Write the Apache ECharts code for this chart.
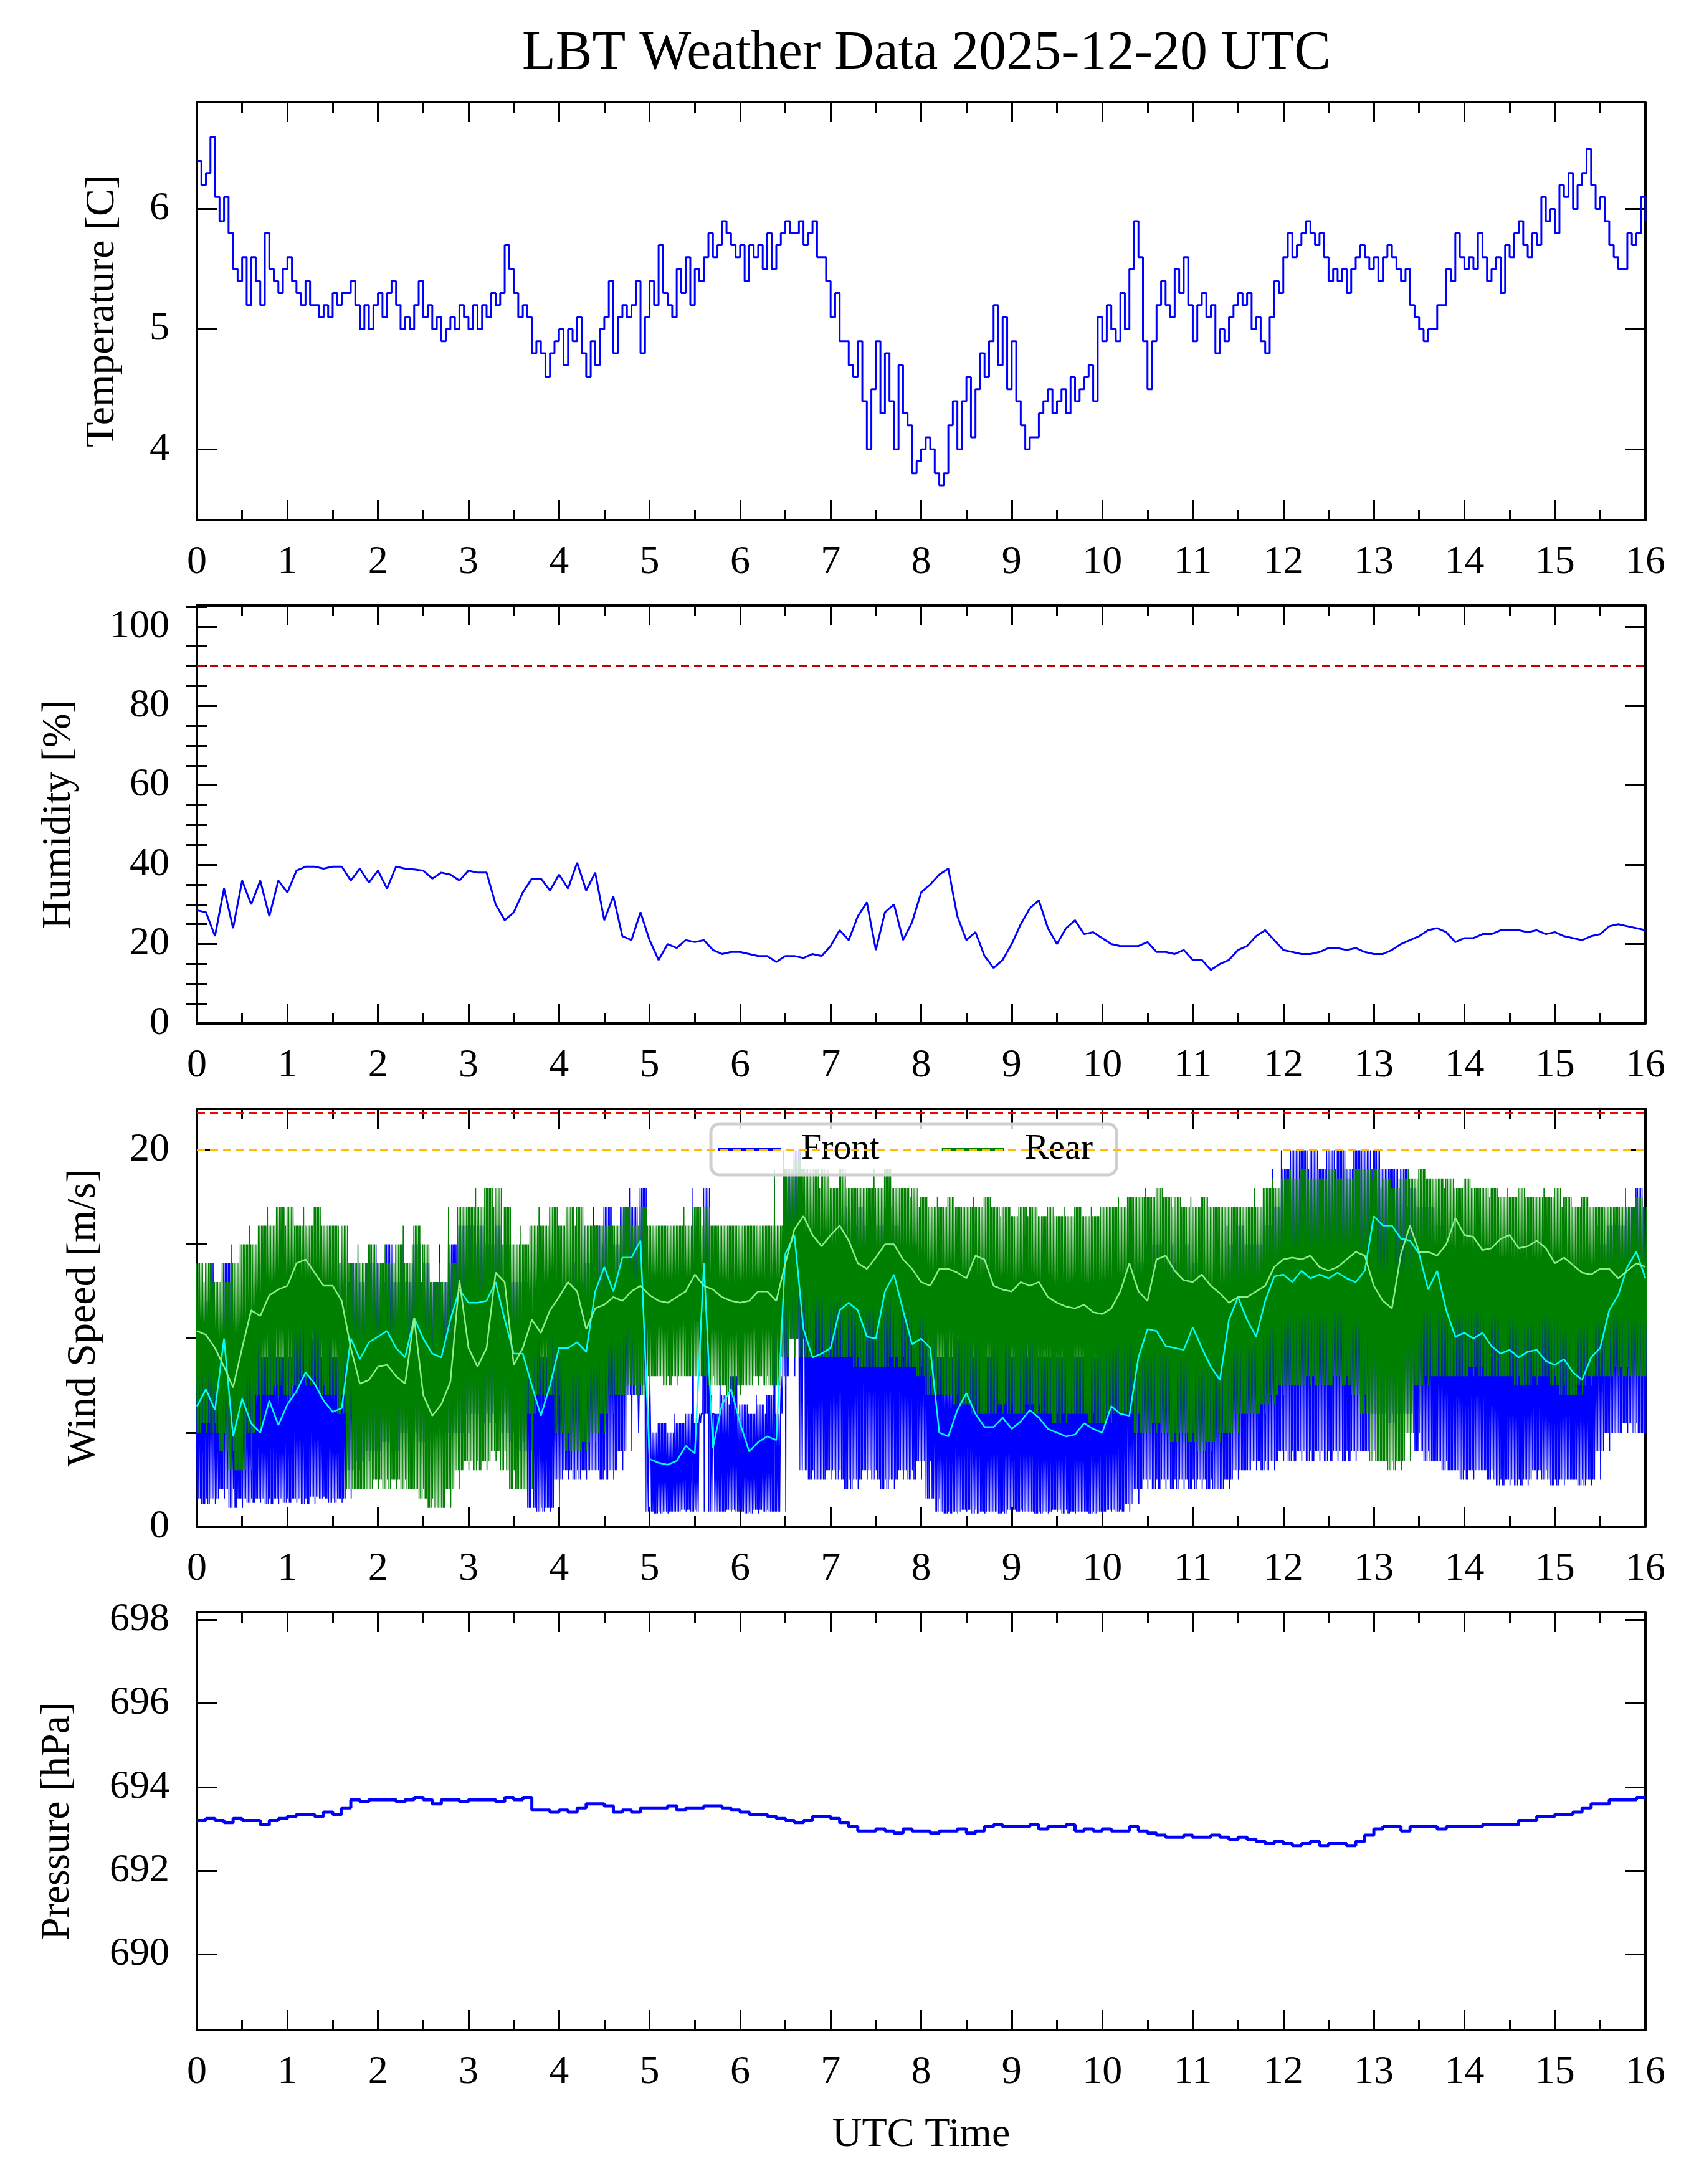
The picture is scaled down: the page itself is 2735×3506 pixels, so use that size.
<!DOCTYPE html>
<html>
<head>
<meta charset="utf-8">
<title>LBT Weather Data 2025-12-20 UTC</title>
<script src="https://cdn.jsdelivr.net/npm/echarts@6/dist/echarts.min.js"></script>
<style>
html, body { margin: 0; padding: 0; background: #fff; }
#main { width: 2735px; height: 3506px; }
</style>
</head>
<body>
<div id="main"></div>
<script>
// sampling steps (hours)
var tempStep = 0.05;
var stdStep = 0.1;

var hourTicks = [0,1,2,3,4,5,6,7,8,9,10,11,12,13,14,15,16];

// temperature [C], every 0.05 h
var tempVals = [
  6.4,6.2,6.3,6.6,6.1,5.9,6.1,5.8,5.5,5.4,5.6,5.2,5.6,5.4,5.2,5.8,5.5,5.4,5.3,5.5,
  5.6,5.4,5.3,5.2,5.4,5.2,5.2,5.1,5.2,5.1,5.3,5.2,5.3,5.3,5.4,5.2,5.0,5.2,5.0,5.2,
  5.3,5.1,5.3,5.4,5.2,5.0,5.1,5.0,5.2,5.4,5.1,5.2,5.0,5.1,4.9,5.0,5.1,5.0,5.2,5.1,
  5.0,5.2,5.0,5.2,5.1,5.3,5.2,5.3,5.7,5.5,5.3,5.1,5.2,5.1,4.8,4.9,4.8,4.6,4.8,4.9,
  5.0,4.7,5.0,4.9,5.1,4.8,4.6,4.9,4.7,5.0,5.1,5.4,4.8,5.1,5.2,5.1,5.2,5.4,4.8,5.1,
  5.4,5.2,5.7,5.3,5.2,5.1,5.5,5.3,5.6,5.2,5.5,5.4,5.6,5.8,5.6,5.7,5.9,5.8,5.7,5.6,
  5.7,5.4,5.7,5.6,5.7,5.5,5.8,5.5,5.7,5.8,5.9,5.8,5.8,5.9,5.7,5.8,5.9,5.6,5.6,5.4,
  5.1,5.3,4.9,4.9,4.7,4.6,4.9,4.4,4.0,4.5,4.9,4.3,4.8,4.4,4.0,4.7,4.3,4.2,3.8,3.9,
  4.0,4.1,4.0,3.8,3.7,3.8,4.2,4.4,4.0,4.4,4.6,4.1,4.5,4.8,4.6,4.9,5.2,4.7,5.1,4.5,
  4.9,4.4,4.2,4.0,4.1,4.1,4.3,4.4,4.5,4.3,4.4,4.5,4.3,4.6,4.4,4.5,4.6,4.7,4.4,5.1,
  4.9,5.2,5.0,4.9,5.3,5.0,5.5,5.9,5.6,4.9,4.5,4.9,5.2,5.4,5.2,5.1,5.5,5.3,5.6,5.2,
  4.9,5.2,5.3,5.1,5.2,4.8,5.0,4.9,5.1,5.2,5.3,5.2,5.3,5.0,5.1,4.9,4.8,5.1,5.4,5.3,
  5.6,5.8,5.6,5.7,5.8,5.9,5.8,5.7,5.8,5.6,5.4,5.5,5.4,5.5,5.3,5.5,5.6,5.7,5.6,5.5,
  5.6,5.4,5.6,5.7,5.6,5.5,5.4,5.5,5.2,5.1,5.0,4.9,5.0,5.0,5.2,5.2,5.5,5.4,5.8,5.6,
  5.5,5.6,5.5,5.8,5.6,5.4,5.5,5.6,5.3,5.7,5.6,5.8,5.9,5.7,5.6,5.8,5.7,6.1,5.9,6.0,
  5.8,6.2,6.1,6.3,6.0,6.2,6.3,6.5,6.2,6.0,6.1,5.9,5.7,5.6,5.5,5.5,5.8,5.7,5.8,6.1,
  5.9
];

// humidity [%], every 0.1 h
var humidityVals = [
  28.5,28,22,34,24,36,30,36,27,36,
  33,38.5,39.5,39.5,39,39.5,39.5,36,39,35.5,
  38.5,34,39.5,39,38.8,38.5,36.5,38,37.5,36,
  38.5,38,38,30,26,28,33,36.5,36.5,33.5,
  37.5,34,40.5,33.5,38,26,32,22,21,28,
  21,16,20,19,21,20.5,21,18.5,17.5,18,
  18,17.5,17,17,15.5,17,17,16.5,17.5,17,
  19.5,23.5,21,27,30.5,18.5,28,30,21,25.5,
  33,35,37.5,39,27,21,23,17,14,16,
  20,25,29,31,24,20,24,26,22.5,23,
  21.5,20,19.5,19.5,19.5,20.5,18,18,17.5,18.5,
  16,16,13.5,15,16,18.5,19.5,22,23.5,21,
  18.5,18,17.5,17.5,18,19,19,18.5,19,18,
  17.5,17.5,18.5,20,21,22,23.5,24,23,20.5,
  21.5,21.5,22.5,22.5,23.5,23.5,23.5,23,23.5,22.5,
  23,22,21.5,21,22,22.5,24.5,25,24.5,24,
  23.5
];
var humidityLimit = 90;

// wind speed [m/s], every 0.1 h: running means and the spread of the raw samples
var frontMean = [
  6.4,7.3,6.2,10,4.8,6.8,5.5,5.0,6.7,5.4,
  6.5,7.2,8.2,7.6,6.7,6.1,6.3,10,8.9,9.8,
  10.1,10.4,9.5,9.0,11.1,10,9.2,9.0,11,12.6,
  11.9,11.9,12,13,11,9.2,9.2,7.5,5.9,7.5,
  9.5,9.5,9.8,9.3,12.5,13.8,12.5,14.3,14.3,15.2,
  3.6,3.4,3.3,3.5,4.3,3.9,14,4.2,6.5,7.3,
  5.5,4.0,4.5,4.8,4.6,14.5,15.5,10.5,9.0,9.2,
  9.5,11.5,11.9,11.5,10.1,10.0,12.5,13.4,11.5,9.7,
  10.0,9.5,5.0,4.8,6.2,7.1,6.0,5.3,5.3,5.8,
  5.2,5.6,6.2,5.8,5.2,5.0,4.8,4.9,5.5,5.2,
  5.0,6.4,6.0,5.9,9.0,10.5,10.4,9.6,9.5,9.4,
  10.6,9.5,8.5,7.8,11,12.2,11,10.1,12,13.3,
  13.4,13.0,13.6,13.2,13.4,13.2,13.5,13.2,13.0,13.6,
  16.5,16.0,16.0,15.3,15.2,14.5,12.6,13.6,11.5,10.1,
  10.3,10.0,10.3,9.6,9.2,9.4,9.0,9.3,9.4,8.8,
  8.6,8.9,8.2,7.8,9.0,9.5,11.5,12.3,13.8,14.6,
  13.2
];
var rearMean = [
  10.4,10.2,9.5,8.5,7.4,9.5,11.5,11.2,12.3,12.6,
  12.8,14.0,14.2,13.5,12.8,12.8,12.0,9.5,7.6,7.8,
  8.5,8.6,8.0,7.6,11.1,7.0,5.9,6.5,7.7,13.1,
  9.5,8.5,9.5,13.5,13.0,8.6,9.5,11.0,10.3,11.5,
  12.2,13.0,12.5,10.5,11.6,11.8,12.2,12.0,12.5,12.8,
  12.3,12.0,11.9,12.2,12.5,13.4,12.8,12.6,12.2,12.0,
  11.9,12.0,12.5,12.5,12.0,14.0,15.8,16.5,15.5,14.9,
  15.5,16.0,15.2,14.0,13.7,14.3,15.0,15.0,14.2,13.7,
  13.0,12.8,13.7,13.7,13.5,13.2,14.4,14.2,12.8,12.6,
  12.5,13.0,12.8,13.0,12.2,11.9,11.7,11.6,11.8,11.4,
  11.3,11.6,12.5,14.0,12.5,12.0,14.2,14.4,13.6,13.1,
  13.0,13.4,12.8,12.4,11.9,12.2,12.2,12.5,12.8,13.8,
  14.2,14.3,14.2,14.4,13.8,13.6,13.8,14.2,14.6,14.4,
  12.8,12.0,11.6,14.5,16.0,14.6,14.6,14.4,15.0,16.4,
  15.5,15.4,14.7,14.8,15.3,15.5,14.8,14.9,15.2,14.8,
  14.0,14.3,13.9,13.5,13.4,13.7,13.7,13.2,13.6,14.0,
  13.8
];
var frontLow = [
  1.5,1.2,1.5,2,1,1.5,1.3,1.5,1.2,1.5,
  1.3,1.5,1.2,1.6,1.5,1.3,1.5,3,3.5,4,
  4,4.5,4,5,5,4.5,5,5.5,5,5,
  6,6,5.5,6,5,4.5,4,1,0.8,1,
  2.5,3,2.5,3,3,2.5,3,4,7,7.5,
  0.8,0.7,0.8,0.8,0.9,0.8,6,0.8,0.8,0.9,
  0.8,0.7,0.9,0.8,0.8,8,10,3,2.5,2.5,
  3,2.5,2,2.5,3,2.5,2,2.5,3,2.5,
  3.5,1.5,0.8,0.7,0.8,0.9,0.7,0.8,0.8,0.7,
  0.9,0.8,0.8,0.7,0.8,0.9,0.7,0.8,0.8,0.7,
  0.8,0.9,0.8,1.2,2,2.5,2,2.5,2,2.5,
  2,2.5,2,2,2.5,3,3,3.5,3,3.5,
  4,3.5,4,3.5,4,3.5,4,3.5,4,4,
  6,6,5.5,6,6,4,3.5,3.5,3,3,
  2.5,3,3,2.5,2.2,2.5,2.2,2.5,3,2.5,
  2.2,2.5,2.5,2.2,2.5,4,5,5,5.5,5,
  5
];
var frontHigh = [
  10,12,9,14,8,10,9,9,10,9,
  9,11,12,11,10,9,10,14,13,14,
  14,15,13,13,15,14,13,13,15,16,
  16,16,15,16,15,13,13,10,9,11,
  13,13,13,14,16,17,15,17,17,18,
  5,5.5,5,5.5,6,5.5,18,6,7,8,
  6.5,6,6.5,7,6,19,20,14,14,15,
  15,16,15,17,16,16,17,16,15,15,
  14,11,9,9,10,11,10,9,10,10,
  9,10,10,9,9,9,10,9,9,9,
  10,10,10,11,14,15,15,14,14,15,
  14,13,12,13,15,16,15,15,16,17,
  19,20,20,20,19,20,20,19,20,20,
  20,19,19,19,18,17,17,16,15,15,
  14,15,15,14,13,13,13,13,13,12,
  12,13,12,12,13,15,16,16,17,18,
  17
];
var rearLow = [
  5,5.5,5,4,3,3,5,7,7,7.5,
  7,7.5,8,7.5,7,7,6,2,2,2,
  2.5,2,2.5,2,2,1.5,1,1,2,3,
  3.5,3,3.5,4,3,2,2,6,7,7,
  5,4,4,4.5,5,6,7,7,7.5,7,
  8,8,7.5,8,8,8,8,7.5,7.5,7,
  7.5,7.5,8,7.5,7.5,9,10,9,9,9,
  9,9,9,8.5,8.5,8.5,8.5,9,8.5,8.5,
  8,7,7,7,6.5,6.5,6,6,6,6.5,
  6,6,6.5,6,6,5.5,6,6,6,5.5,
  5.5,6,6,6,5,5,5.5,5,4.5,5,
  4.5,4,4.5,5,5,6,6,6,6.5,7,
  7.5,7.5,7.5,8,7.5,7.5,8,7.5,7,6,
  3.5,3.5,3,3.5,5,7.5,8,8,8,8,
  8,8.5,8,8,8,8,7.5,7.5,8,8,
  7.5,7,7,7.5,8,8,8,8.5,8,8,
  8
];
var rearHigh = [
  14,14,13,13,14,15,15,16,16,17,
  17,16,16,17,16,16,16,14,14,15,
  14,14,15,14,16,15,13,13,14,17,
  17,17,18,18,17,15,15,16,16,17,
  16,17,17,16,16,16,16,17,16,17,
  16,16,16,16,16,17,17,16,16,16,
  16,16,16,16,16,19,19.5,19,19,19,
  18,19,18,18,18,18,19,18,18,18,
  17.5,17,17,17.5,17,17,17,17.5,17,17,
  16.5,17,17,16.5,17,16.5,16.5,17,16.5,16.5,
  17,17,17,17.5,17.5,17.5,18,17.5,17.5,17,
  17,17.5,17,17,17,17,17,17,18,18,
  18.5,18.5,19,18.5,18.5,19,18.5,18.5,19,19,
  19,18.5,18,18.5,18.5,19,18.5,18.5,18.5,18,
  18.5,18,18,18,17.5,17.5,18,17.5,17.5,17.5,
  18,17.5,17,17.5,17,17,17,17,17,17.5,
  17
];
var windAlarm = 22;
var windWarn = 20;

// pressure [hPa], every 0.1 h
var pressureVals = [
  693.2,693.25,693.2,693.15,693.25,693.2,693.2,693.1,693.2,693.25,
  693.3,693.35,693.35,693.3,693.4,693.35,693.5,693.7,693.65,693.7,
  693.7,693.7,693.65,693.7,693.75,693.7,693.6,693.7,693.7,693.65,
  693.7,693.7,693.7,693.65,693.75,693.7,693.75,693.45,693.45,693.4,
  693.45,693.4,693.5,693.6,693.6,693.55,693.4,693.45,693.4,693.5,
  693.5,693.5,693.55,693.45,693.5,693.5,693.55,693.55,693.5,693.45,
  693.4,693.35,693.35,693.3,693.25,693.2,693.15,693.2,693.3,693.3,
  693.25,693.15,693.05,692.95,692.95,693.0,692.95,692.9,693.0,692.95,
  692.95,692.9,692.95,692.95,693.0,692.9,692.95,693.05,693.1,693.05,
  693.05,693.05,693.1,693.0,693.05,693.05,693.1,692.95,693.0,692.95,
  693.0,692.95,692.95,693.05,692.95,692.9,692.85,692.8,692.8,692.85,
  692.8,692.8,692.85,692.8,692.75,692.8,692.75,692.7,692.65,692.7,
  692.65,692.6,692.65,692.7,692.6,692.65,692.65,692.6,692.7,692.85,
  693.0,693.05,693.05,692.95,693.05,693.05,693.05,693.0,693.05,693.05,
  693.05,693.05,693.1,693.1,693.1,693.1,693.2,693.2,693.3,693.3,
  693.35,693.35,693.4,693.5,693.6,693.6,693.7,693.7,693.7,693.75,
  693.75
];

var FONT = "'Liberation Serif', 'DejaVu Serif', serif";
var BLUE = '#0000ff', GREEN = '#008000', CYAN = '#00ffff', LIGHTGREEN = '#90ee90';

function series(vals, step) {
  return vals.map(function (v, i) { return [+(i * step).toFixed(3), v]; });
}

// raw wind samples: a dense trace sweeping between the low and high of each bin,
// borrowing the neighbouring bins' extremes on some sweeps so the edges stay ragged
var SUB = 12;
var neighbour = [0, -1, 0, 1, 0, 0, -1, 0, 1, 0, 0, 0];
function band(low, high) {
  var n = low.length, pts = [];
  for (var i = 0; i < n; i++) {
    for (var k = 0; k < SUB; k++) {
      var j = Math.min(n - 1, Math.max(0, i + neighbour[k]));
      var x = i * stdStep + (k - (SUB - 1) / 2) * stdStep / SUB;
      pts.push([x, k % 2 ? high[j] : low[(k % 4 === 0) ? i : j]]);
    }
  }
  return pts;
}

var gridTops = [164, 972, 1780, 2588];
var gridH = 671;
var grids = gridTops.map(function (t) {
  return { left: 316, right: 94, top: t, height: gridH };
});

var tickLine = { color: '#000', width: 3 };
var frame = { show: true, onZero: false, lineStyle: { color: '#000', width: 4 } };

function xPair(gi, withName) {
  var common = {
    type: 'value', gridIndex: gi, min: 0, max: 16, interval: 1,
    axisLine: frame,
    axisTick: { show: true, inside: true, length: 32, lineStyle: tickLine },
    minorTick: { show: true, splitNumber: 2, length: 17, lineStyle: tickLine },
    splitLine: { show: false }
  };
  var bottom = Object.assign({}, common, {
    position: 'bottom',
    axisLabel: { show: true, fontSize: 64, fontFamily: FONT, color: '#000', margin: 36 }
  });
  if (withName) {
    bottom.name = 'UTC Time';
    bottom.nameLocation = 'middle';
    bottom.nameGap = 136;
    bottom.nameTextStyle = { fontSize: 66, fontFamily: FONT, color: '#000' };
  }
  var top = Object.assign({}, common, { position: 'top', axisLabel: { show: false } });
  return [bottom, top];
}

function yAxes(gi, min, max, majors, name, gap, minors) {
  var common = {
    type: 'value', gridIndex: gi, min: min, max: max,
    axisLine: frame,
    axisTick: { show: true, inside: true, length: 32, lineStyle: tickLine, customValues: majors },
    splitLine: { show: false }
  };
  var left = Object.assign({}, common, {
    position: 'left',
    name: name, nameLocation: 'middle', nameGap: gap,
    nameTextStyle: { fontSize: 66, fontFamily: FONT, color: '#000' },
    axisLabel: { show: true, fontSize: 64, fontFamily: FONT, color: '#000', margin: 44, customValues: majors }
  });
  var right = Object.assign({}, common, { position: 'right', axisLabel: { show: false } });
  var list = [left, right];
  if (minors) {
    ['left', 'right'].forEach(function (pos) {
      list.push({
        type: 'value', gridIndex: gi, min: min, max: max, position: pos,
        axisLine: { show: false },
        axisTick: { show: true, inside: true, length: 17, lineStyle: tickLine, customValues: minors },
        axisLabel: { show: false },
        splitLine: { show: false }
      });
    });
  }
  return list;
}

var xAxis = [].concat(xPair(0), xPair(1), xPair(2), xPair(3, true));
var yAxis = [].concat(
  yAxes(0, 3.41, 6.89, [4, 5, 6], 'Temperature [C]', 118),                    // 0,1
  yAxes(1, 0, 105.3, [0, 20, 40, 60, 80, 100], 'Humidity [%]', 188,
        [5, 10, 15, 25, 30, 35, 45, 50, 55, 65, 70, 75, 85, 90, 95, 105]),    // 2..5
  yAxes(2, 0, 22.2, [0, 20], 'Wind Speed [m/s]', 148, [5, 10, 15]),           // 6..9
  yAxes(3, 688.19, 698.18, [690, 692, 694, 696, 698], 'Pressure [hPa]', 190)  // 10,11
);

function hLine(value, color) {
  return {
    silent: true, symbol: 'none', label: { show: false },
    lineStyle: { color: color, width: 3, type: [13, 8] },
    data: [{ yAxis: value }]
  };
}

var option = {
  animation: false,
  backgroundColor: '#fff',
  title: {
    text: 'LBT Weather Data 2025-12-20 UTC',
    left: 1482, top: 38, textAlign: 'center',
    textStyle: { fontSize: 88, fontWeight: 'normal', fontFamily: FONT, color: '#000' }
  },
  legend: {
    data: ['Front', 'Rear'],
    left: 1141, top: 1804,
    icon: 'rect', itemWidth: 100, itemHeight: 4, itemGap: 100,
    padding: [12, 38, 12, 12],
    backgroundColor: 'rgba(255,255,255,0.8)',
    borderColor: '#cfcfcf', borderWidth: 5, borderRadius: 14,
    textStyle: { fontSize: 58, fontFamily: FONT, color: '#000', padding: [0, 0, 0, 28] }
  },
  grid: grids,
  xAxis: xAxis,
  yAxis: yAxis,
  series: [
    {
      name: 'Temperature', type: 'line', xAxisIndex: 0, yAxisIndex: 0,
      data: series(tempVals, tempStep), step: 'end', showSymbol: false,
      color: BLUE, lineStyle: { color: BLUE, width: 3 }
    },
    {
      name: 'Humidity', type: 'line', xAxisIndex: 2, yAxisIndex: 2,
      data: series(humidityVals, stdStep), showSymbol: false,
      color: BLUE, lineStyle: { color: BLUE, width: 3 },
      markLine: hLine(humidityLimit, '#c00000')
    },
    {
      name: 'Front', type: 'line', xAxisIndex: 4, yAxisIndex: 6,
      data: band(frontLow, frontHigh), showSymbol: false,
      color: BLUE, lineStyle: { color: BLUE, width: 1.6 },
      markLine: hLine(windAlarm, '#ff0000')
    },
    {
      name: 'Rear', type: 'line', xAxisIndex: 4, yAxisIndex: 6,
      data: band(rearLow, rearHigh), showSymbol: false,
      color: GREEN, lineStyle: { color: GREEN, width: 1.6 },
      markLine: hLine(windWarn, '#ffbb00')
    },
    {
      name: 'Front mean', type: 'line', xAxisIndex: 4, yAxisIndex: 6,
      data: series(frontMean, stdStep), showSymbol: false,
      color: CYAN, lineStyle: { color: CYAN, width: 2.5 }
    },
    {
      name: 'Rear mean', type: 'line', xAxisIndex: 4, yAxisIndex: 6,
      data: series(rearMean, stdStep), showSymbol: false,
      color: LIGHTGREEN, lineStyle: { color: LIGHTGREEN, width: 2.5 }
    },
    {
      name: 'Pressure', type: 'line', xAxisIndex: 6, yAxisIndex: 10,
      data: series(pressureVals, stdStep), step: 'end', showSymbol: false,
      color: BLUE, lineStyle: { color: BLUE, width: 5 }
    }
  ]
};

var myChart = echarts.init(document.getElementById('main'), null, { renderer: 'canvas' });
myChart.setOption(option);
</script>
</body>
</html>
